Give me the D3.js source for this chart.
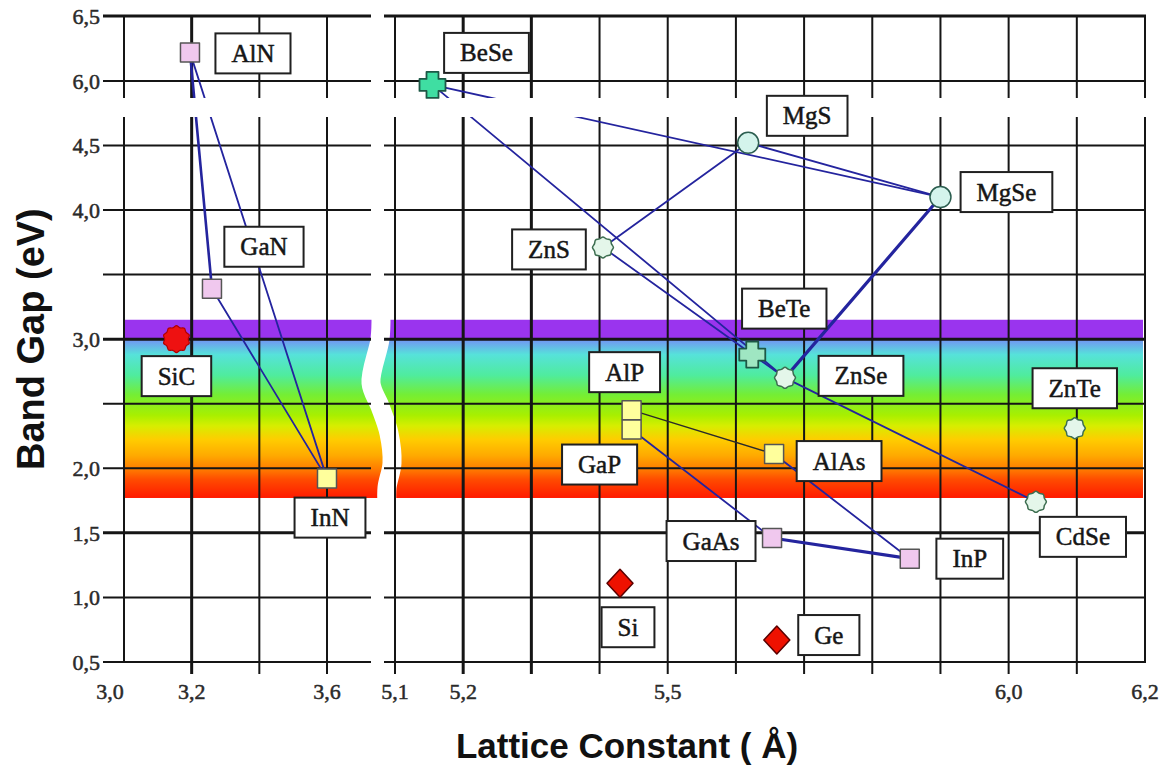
<!DOCTYPE html>
<html>
<head>
<meta charset="utf-8">
<script src="https://cdn.jsdelivr.net/npm/d3@7"></script>
<style>
  html, body { margin: 0; padding: 0; background: #ffffff; }
  svg { display: block; }
</style>
</head>
<body>
<svg id="chart" width="1164" height="767"></svg>
<script>
// ---- data: semiconductor lattice constant (Å) vs band gap (eV) ----
const compounds       = ["AlN", "GaN", "InN", "SiC", "BeSe", "MgS", "MgSe", "ZnS", "BeTe", "ZnSe", "ZnTe", "CdSe", "AlP", "GaP", "AlAs", "GaAs", "InP", "Si", "Ge"];
const latticeConstant = [3.195, 3.26, 3.60, 3.155, 5.155, 5.618, 5.90, 5.405, 5.624, 5.672, 6.097, 6.04, 5.447, 5.447, 5.656, 5.653, 5.855, 5.43, 5.66];
const bandGap         = [6.22, 3.39, 1.92, 3.00, 5.97, 4.52, 4.10, 3.71, 2.88, 2.70, 2.31, 1.74, 2.45, 2.30, 2.11, 1.46, 1.30, 1.11, 0.67];

// alloy tie lines between compounds
const tieLines = [
  ["AlN", "GaN"], ["AlN", "InN"], ["GaN", "InN"],
  ["BeSe", "MgSe"], ["MgS", "MgSe"], ["ZnS", "MgS"],
  ["BeSe", "ZnSe"], ["ZnS", "ZnSe"], ["MgSe", "ZnSe"], ["ZnSe", "CdSe"],
  ["AlP", "AlAs"], ["GaP", "GaAs"], ["GaAs", "InP"], ["AlAs", "InP"]
];

// axis ticks
const yGridLow   = [0.5, 1.0, 1.5, 2.0, 2.5, 3.0, 3.5, 4.0, 4.5];
const yGridHigh  = [6.0, 6.5];
const yTickLabels = ["6,5", "6,0", "4,5", "4,0", "3,0", "2,0", "1,5", "1,0", "0,5"];
const xGridLeft  = [3.0, 3.2, 3.4, 3.6];
const xGridRight = [5.1, 5.2, 5.3, 5.4, 5.5, 5.6, 5.7, 5.8, 5.9, 6.0, 6.1, 6.2];
const xTickLabels = ["3,0", "3,2", "3,6", "5,1", "5,2", "5,5", "6,0", "6,2"];

// visible-light photon energies (eV)
const visibleRange = [1.77, 3.15];

// ---- scales (split axes with breaks) ----
const xLeft  = d3.scaleLinear().domain([3.0, 3.6]).range([124, 327]);
const xRight = d3.scaleLinear().domain([5.1, 6.2]).range([395, 1145]);
const yLow   = d3.scaleLinear().domain([0.5, 4.5]).range([662, 145.4]);
const yHigh  = d3.scaleLinear().domain([6.0, 6.5]).range([81, 16]);
const xPos = v => (v < 4.5 ? xLeft(v) : xRight(v));
const yPos = v => (v > 5.5 ? yHigh(v) : yLow(v));

const leftPanel  = { x0: xLeft(3.0), x1: 371 };
const rightPanel = { x0: 384, x1: xRight(6.2) };
const gapX = 378;               // centre of the horizontal axis break
const yBreak = [98, 117];       // vertical extent of the band-gap axis break
const plotTop = yHigh(6.5), plotBottom = yLow(0.5);

// ---- styles ----
const lineColor = "#24249e";
const gridColor = "#151515";
const thickY = [6.5, 3.0, 1.5];
const thickX = [3.2, 5.2, 5.3];
const tieWidth = { "AlN-GaN": 2.6, "MgSe-ZnSe": 3.2, "GaAs-InP": 3.2, "AlP-AlAs": 1.4 };
const tieColor = { "AlP-AlAs": "#2a2a2a" };

const spectrumStops = [
  [3.15, "#9a34ee"], [3.01, "#9a34ee"], [2.99, "#7198f2"], [2.88, "#56e2da"],
  [2.72, "#4fec9e"], [2.57, "#74ee35"], [2.41, "#a8ef00"], [2.33, "#d6ee00"],
  [2.22, "#ffcc00"], [2.10, "#ffaa00"], [1.99, "#ff7a00"], [1.91, "#ff4a00"], [1.77, "#ff1a00"]
];

const markerStyle = {
  AlN:  { shape: "square",  fill: "#f0c8ee" },
  GaN:  { shape: "square",  fill: "#f0c8ee" },
  InN:  { shape: "square",  fill: "#ffff9c" },
  SiC:  { shape: "blob",    fill: "#ee1111" },
  BeSe: { shape: "cross",   fill: "#3fdea2" },
  MgS:  { shape: "circle",  fill: "#d4f4ec" },
  MgSe: { shape: "circle",  fill: "#d4f4ec" },
  ZnS:  { shape: "scallop", fill: "#e4f6ea" },
  BeTe: { shape: "cross",   fill: "#9fe6c2" },
  ZnSe: { shape: "scallop", fill: "#e4f6ea" },
  ZnTe: { shape: "scallop", fill: "#e4f6ea" },
  CdSe: { shape: "scallop", fill: "#e4f6ea" },
  AlP:  { shape: "square",  fill: "#ffff9c" },
  GaP:  { shape: "square",  fill: "#ffff9c" },
  AlAs: { shape: "square",  fill: "#ffff9c" },
  GaAs: { shape: "square",  fill: "#f0c8ee" },
  InP:  { shape: "square",  fill: "#f0c8ee" },
  Si:   { shape: "diamond", fill: "#ee1100" },
  Ge:   { shape: "diamond", fill: "#ee1100" }
};

// label box centre relative to its marker (px)
const labelOffset = {
  AlN: [63, 1], GaN: [52, -42], InN: [3, 39], SiC: [0, 37], BeSe: [54, -32],
  MgS: [59, -27], MgSe: [66, -5], ZnS: [-54, 2], BeTe: [32, -46], ZnSe: [76, -2],
  ZnTe: [0, -40], CdSe: [47, 35], AlP: [-7, -38], GaP: [-32, 35], AlAs: [65, 7],
  GaAs: [-61, 3], InP: [60, 0], Si: [8, 44], Ge: [52, -5]
};

const points = compounds.map((name, i) => ({
  name, a: latticeConstant[i], eg: bandGap[i],
  x: xPos(latticeConstant[i]), y: yPos(bandGap[i])
}));
const byName = Object.fromEntries(points.map(p => [p.name, p]));

const svg = d3.select("#chart");
const defs = svg.append("defs");

// ---- visible spectrum band ----
const bandTop = yLow(visibleRange[1]), bandBottom = yLow(visibleRange[0]);
const grad = defs.append("linearGradient").attr("id", "spectrum")
  .attr("gradientUnits", "userSpaceOnUse")
  .attr("x1", 0).attr("x2", 0).attr("y1", bandTop).attr("y2", bandBottom);
spectrumStops.forEach(([e, c]) => grad.append("stop")
  .attr("offset", (yLow(e) - bandTop) / (bandBottom - bandTop))
  .attr("stop-color", c));

svg.append("rect")
  .attr("x", leftPanel.x0 - 1).attr("y", bandTop)
  .attr("width", rightPanel.x1 - 2 - (leftPanel.x0 - 1)).attr("height", bandBottom - bandTop)
  .attr("fill", "url(#spectrum)");

// wavy white break through the band
const breakShape = [[3, 3.19], [2, 3.0], [-7, 2.66], [2, 2.48], [11, 2.27], [14, 2.04], [9, 1.85], [9, 1.72]];
svg.append("path")
  .attr("d", d3.line().x(d => gapX + d[0]).y(d => yLow(d[1])).curve(d3.curveCatmullRom)(breakShape))
  .attr("fill", "none").attr("stroke", "#ffffff").attr("stroke-width", 19).attr("stroke-linecap", "butt");

// ---- grid ----
const grid = svg.append("g").attr("stroke", gridColor).attr("fill", "none");
const hLines = yGridLow.map(v => ({ v, y: yLow(v) })).concat(yGridHigh.map(v => ({ v, y: yHigh(v) })));
hLines.forEach(({ v, y }) => {
  const w = thickY.includes(v) ? 3 : 2;
  grid.append("line").attr("x1", 103).attr("x2", leftPanel.x1).attr("y1", y).attr("y2", y).attr("stroke-width", w);
  grid.append("line").attr("x1", rightPanel.x0).attr("x2", rightPanel.x1 + 1).attr("y1", y).attr("y2", y).attr("stroke-width", w);
});
xGridLeft.forEach(v => {
  grid.append("line").attr("x1", xLeft(v)).attr("x2", xLeft(v))
    .attr("y1", plotTop).attr("y2", v === 3.0 ? plotBottom : plotBottom + 12)
    .attr("stroke-width", thickX.includes(v) ? 3 : 2);
});
xGridRight.forEach(v => {
  grid.append("line").attr("x1", xRight(v)).attr("x2", xRight(v))
    .attr("y1", plotTop).attr("y2", v === 6.2 ? plotBottom : plotBottom + 12)
    .attr("stroke-width", thickX.includes(v) ? 3 : 2);
});

// ---- tie lines ----
const ties = svg.append("g").attr("fill", "none").attr("stroke-linecap", "round");
tieLines.forEach(([a, b]) => {
  const key = a + "-" + b;
  ties.append("line")
    .attr("x1", byName[a].x).attr("y1", byName[a].y)
    .attr("x2", byName[b].x).attr("y2", byName[b].y)
    .attr("stroke", tieColor[key] || lineColor)
    .attr("stroke-width", tieWidth[key] || 1.8);
});

// axis break between the upper and lower band-gap ranges
svg.append("rect").attr("x", 96).attr("y", yBreak[0])
  .attr("width", 1064).attr("height", yBreak[1] - yBreak[0]).attr("fill", "#ffffff");

// ---- markers ----
function starPath(n, rOut, rIn) {
  const pts = [];
  for (let i = 0; i < 2 * n; i++) {
    const r = i % 2 ? rIn : rOut;
    const ang = Math.PI * i / n - Math.PI / 2;
    pts.push([r * Math.cos(ang), r * Math.sin(ang)]);
  }
  return d3.line().curve(d3.curveCatmullRomClosed)(pts);
}
function crossPath(h, w) {
  return `M${-w},${-h}H${w}V${-w}H${h}V${w}H${w}V${h}H${-w}V${w}H${-h}V${-w}H${-w}Z`;
}
const shapes = {
  square:  { d: "M-9.5,-9.5H9.5V9.5H-9.5Z", stroke: "#555", sw: 1.5 },
  diamond: { d: "M0,-14L13,0L0,14L-13,0Z", stroke: "#5a0000", sw: 1.5 },
  cross:   { d: crossPath(13, 6), stroke: "#1d5846", sw: 1.8 },
  circle:  { d: d3.arc()({ innerRadius: 0, outerRadius: 10.5, startAngle: 0, endAngle: 2 * Math.PI }), stroke: "#2c5e50", sw: 1.5 },
  scallop: { d: starPath(8, 10.5, 9.2), stroke: "#3d6e50", sw: 1.5 },
  blob:    { d: starPath(10, 13.5, 11.8), stroke: "#b00000", sw: 1.2 }
};
svg.append("g").selectAll("path").data(points).join("path")
  .attr("transform", d => `translate(${d.x},${d.y})`)
  .attr("d", d => shapes[markerStyle[d.name].shape].d)
  .attr("fill", d => markerStyle[d.name].fill)
  .attr("stroke", d => shapes[markerStyle[d.name].shape].stroke)
  .attr("stroke-width", d => shapes[markerStyle[d.name].shape].sw)
  .attr("stroke-linejoin", "round");

// ---- label boxes ----
const serif = "'Liberation Serif', 'Times New Roman', serif";
const labels = svg.append("g");
points.forEach(p => {
  const [dx, dy] = labelOffset[p.name];
  const cx = p.x + dx, cy = p.y + dy;
  const g = labels.append("g").attr("transform", `translate(${cx},${cy})`);
  const box = g.append("rect");
  const t = g.append("text").text(p.name)
    .attr("text-anchor", "middle").attr("dy", "0.34em")
    .attr("font-family", serif)
    .attr("font-size", 25).attr("fill", "#161616")
    .attr("stroke", "#161616").attr("stroke-width", 0.5);
  const w = t.node().getComputedTextLength() + 32, h = 40;
  box.attr("x", -w / 2).attr("y", -h / 2).attr("width", w).attr("height", h)
    .attr("fill", "#ffffff").attr("stroke", "#202020").attr("stroke-width", 2);
});

// ---- tick labels ----
const ticks = svg.append("g").attr("font-family", serif).attr("font-size", 22)
  .attr("fill", "#2a2a2a").attr("stroke", "#2a2a2a").attr("stroke-width", 0.5);
yTickLabels.forEach(lbl => {
  const v = +lbl.replace(",", ".");
  ticks.append("text").text(lbl)
    .attr("x", 100).attr("y", yPos(v)).attr("dy", "0.35em").attr("text-anchor", "end");
});
xTickLabels.forEach(lbl => {
  const v = +lbl.replace(",", ".");
  ticks.append("text").text(lbl)
    .attr("x", xPos(v) - (v === 3.0 ? 14 : 0)).attr("y", 699).attr("text-anchor", "middle");
});

// ---- axis titles ----
const titleFont = "'Liberation Sans', Arial, sans-serif";
svg.append("text").text("Lattice Constant ( Å)")
  .attr("x", 627).attr("y", 758).attr("text-anchor", "middle")
  .attr("font-family", titleFont).attr("font-weight", "bold").attr("font-size", 35).attr("fill", "#111");
svg.append("text").text("Band Gap (eV)")
  .attr("transform", `translate(44, ${yLow(3.0)}) rotate(-90)`)
  .attr("text-anchor", "middle")
  .attr("font-family", titleFont).attr("font-weight", "bold").attr("font-size", 38).attr("fill", "#111");
</script>
</body>
</html>
